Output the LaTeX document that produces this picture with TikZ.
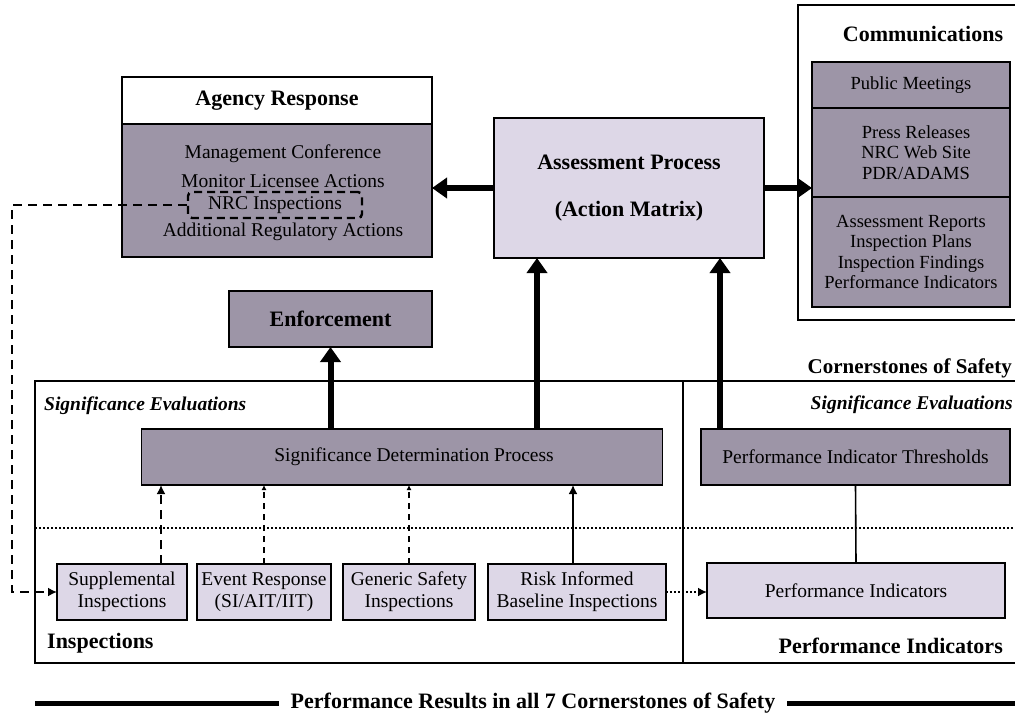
\documentclass[tikz,border=0pt]{standalone}
\usepackage{fontspec}
\setmainfont{Liberation Serif}
\definecolor{nrcdark}{RGB}{157,149,167}
\definecolor{nrclight}{RGB}{221,215,231}
\usetikzlibrary{arrows.meta, positioning}
\tikzset{
>={Latex[length=9pt,width=9pt]}, % filled arrow heads
every node/.style={font=\fontsize{19.5}{22}\selectfont, inner sep=0pt}, % plain text
darkbox/.style={draw=black, line width=1.7pt, fill=nrcdark, outer sep=0pt}, % grey boxes
lightbox/.style={draw=black, line width=1.7pt, fill=nrclight, outer sep=0pt}, % pale boxes
titlebox/.style={draw=black, line width=1.7pt, fill=white, outer sep=0pt, heading},
heading/.style={font=\fontsize{22}{26}\selectfont\bfseries}, % bold titles
sectionlabel/.style={font=\fontsize{19.5}{22}\selectfont\bfseries\itshape},
bigarrow/.style={line width=6pt, -{Triangle[length=15pt,width=20pt]}}, % thick flow arrows
}
\tikzset{
  commtext/.append style={font=\fontsize{18.5}{20.3}\selectfont, align=center}
}

\begin{document}
\begin{tikzpicture}[x=1pt, y=-1pt]
      \useasboundingbox (0,0) rectangle (1015,715);

      % agency response
      \node[titlebox, minimum width=310pt, minimum height=47pt] (agencyhead) at (277,100.5) {Agency Response};
      \node[darkbox, minimum width=310pt, minimum height=133pt, below=0pt of agencyhead] (agency) {};
      \node (mgmt) at (283,154) {Management Conference};
      \node (monitor) at (283,181) {Monitor Licensee Actions};
      \node[draw, line width=2.4pt, dash pattern=on 8pt off 5pt, rounded corners=4pt,
            minimum width=174pt, minimum height=26pt] (nrc) at (275,205) {NRC Inspections};
      \node (addl) at (283,232) {Additional Regulatory Actions};

      % assessment
      \node[lightbox, heading, align=center, minimum width=270pt, minimum height=140pt] (assess) at (629,188)
            {Assessment Process\\[21pt](Action Matrix)};

      % communications
      \draw[line width=1.2pt] (798,5) rectangle (1024,320);
      \node[heading] (commtitle) at (923,34) {Communications};
      \node[darkbox, commtext, minimum width=198pt, minimum height=46pt] (pubmeet) at (911,85) {Public Meetings};
      \node[darkbox, commtext, minimum width=198pt, minimum height=89pt, below=0pt of pubmeet] (press)
            {\hspace*{10pt}Press Releases\\\hspace*{10pt}NRC Web Site\\\hspace*{10pt}PDR/ADAMS};
      \node[darkbox, commtext, minimum width=198pt, minimum height=110pt, below=0pt of press] (reports)
            {Assessment Reports\\Inspection Plans\\Inspection Findings\\Performance Indicators};

      \draw[bigarrow] (assess.west) -- (assess.west -| agency.east);
      \draw[bigarrow] (assess.east) -- (assess.east -| press.west);

      % enforcement
      \node[darkbox, heading, minimum width=203pt, minimum height=56pt] (enforce) at (330.5,319) {Enforcement};

      % cornerstones frame
      \draw[line width=1.7pt] (1024,381) -- (35,381) -- (35,663) -- (1024,663);
      \draw[line width=1.2pt] (683,381) -- (683,663);
      \draw[line width=1.2pt, dash pattern=on 2pt off 2pt] (35,528) -- (1024,528);
      \node[font=\fontsize{21}{24}\selectfont\bfseries, anchor=east] (corner) at (1012,368) {Cornerstones of Safety};
      \node[sectionlabel, anchor=west] (sigleft) at (44,406) {Significance Evaluations};
      \node[sectionlabel, anchor=east] (sigright) at (1013,405) {Significance Evaluations};

      \node[darkbox, minimum width=521pt, minimum height=56pt] (sdp) at (402,457)
            {\hspace*{24pt}Significance Determination Process};
      \node[darkbox, minimum width=309pt, minimum height=56pt] (pithr) at (855.5,457)
            {Performance Indicator Thresholds};

      \node[lightbox, align=center, minimum width=130pt, minimum height=56pt] (supp) at (122,592)
            {Supplemental\\Inspections};
      \node[lightbox, align=center, minimum width=134pt, minimum height=56pt] (event) at (264,592)
            {Event Response\\(SI/AIT/IIT)};
      \node[lightbox, align=center, minimum width=132pt, minimum height=56pt] (generic) at (409,592)
            {Generic Safety\\Inspections};
      \node[lightbox, align=center, minimum width=178pt, minimum height=56pt] (risk) at (577,592)
            {Risk Informed\\Baseline Inspections};
      \node[lightbox, minimum width=298pt, minimum height=55pt] (pi) at (856,590.5) {Performance Indicators};

      \node[heading, anchor=west] (insplabel) at (47,643) {Inspections};
      \node[heading, anchor=east] (pilabel) at (1003,646) {Performance Indicators};

      % flows into the boxes above
      \draw[bigarrow] (enforce.south |- sdp.north) -- (enforce.south);
      \draw[bigarrow] ([xshift=-92pt]assess.south |- sdp.north) -- ([xshift=-92pt]assess.south);
      \draw[bigarrow] ([xshift=91pt]assess.south |- pithr.north) -- ([xshift=91pt]assess.south);

      \draw[line width=2.6pt, dash pattern=on 9pt off 6pt, ->] ([xshift=39pt]supp.north) -- ([xshift=39pt]supp.north |- sdp.south);
      \draw[line width=1.6pt, dash pattern=on 6pt off 5pt, -{Latex[length=5pt,width=5pt]}] (event.north) -- (event.north |- sdp.south);
      \draw[line width=1.6pt, dash pattern=on 6pt off 5pt, -{Latex[length=5pt,width=5pt]}] (generic.north) -- (generic.north |- sdp.south);
      \draw[line width=1.6pt, ->] ([xshift=-4pt]risk.north) -- ([xshift=-4pt]risk.north |- sdp.south);
      \draw[line width=2pt, dotted, ->] (risk.east) -- (risk.east -| pi.west);
      \draw[line width=1.6pt] (pithr.south) -- (pi.north);

      \coordinate (nrcturn) at (12,205);
      \draw[line width=2.6pt, dash pattern=on 9pt off 6pt, ->] (nrc.west) -- (nrcturn) |- (supp.west);

      % bottom banner
      \node[heading, inner xsep=12pt] (results) at (533,703) {Performance Results in all 7 Cornerstones of Safety};
      \coordinate (resleft) at (35,703);
      \coordinate (resright) at (1024,703);
      \draw[line width=5pt] (resleft) -- (results.west) (results.east) -- (resright);
\end{tikzpicture}
\end{document}
